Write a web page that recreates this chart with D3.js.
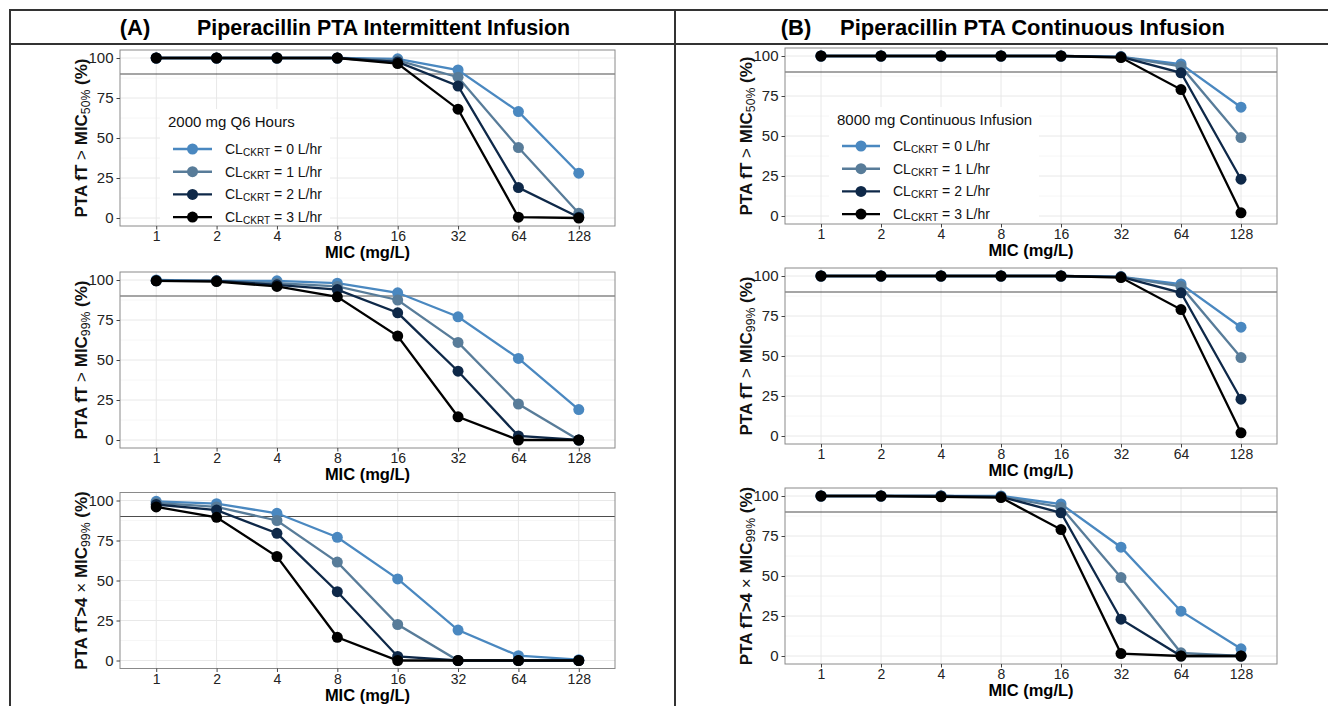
<!DOCTYPE html>
<html>
<head>
<meta charset="utf-8">
<script src="https://cdn.jsdelivr.net/npm/d3@7"></script>
<style>
  body { margin: 0; background: #fff; }
  text { font-family: "Liberation Sans", Arial, sans-serif; }
</style>
</head>
<body>
<svg id="chart" width="1328" height="706"></svg>
<script>
// ---- data ----
const micLabels = ["1", "2", "4", "8", "16", "32", "64", "128"];
const clLabels = ["0", "1", "2", "3"];
const seriesColors = ["#4a88c0", "#587c99", "#0e2848", "#000000"];
const yTicks = [0, 25, 50, 75, 100];
const yMinor = [12.5, 37.5, 62.5, 87.5];
const target = 90;

// intermittent infusion, 2000 mg q6h (one row per CL_CKRT)
const intMic50 = [
  [100, 100, 100, 100, 99.5, 92.5, 66.5, 28],
  [100, 100, 100, 100, 98.5, 88, 44, 3],
  [100, 100, 100, 100, 97.5, 82.5, 19, 0.5],
  [100, 100, 100, 100, 96.5, 68, 0.5, 0]
];
const intMic99 = [
  [100, 99.5, 99.5, 98, 92, 77, 51, 19],
  [99.5, 99.5, 98, 96, 87.5, 61, 22.5, 0],
  [99.5, 99.5, 97, 94, 79.5, 43, 2.5, 0],
  [99.5, 99, 96, 89.5, 65, 14.5, 0, 0]
];
const int4Mic99 = [
  [99.5, 98, 92, 77, 51, 19, 3, 0.5],
  [98.5, 96, 87.5, 61.5, 22.5, 0, 0, 0],
  [97.5, 94, 79.5, 43, 2.5, 0, 0, 0],
  [96, 89.5, 65, 14.5, 0, 0, 0, 0]
];

// continuous infusion, 8000 mg
const conMic50 = [
  [100, 100, 100, 100, 100, 99.5, 95, 68],
  [100, 100, 100, 100, 100, 99.5, 93.5, 49],
  [100, 100, 100, 100, 100, 99.5, 89.5, 23],
  [100, 100, 100, 100, 100, 99, 79, 2]
];
const conMic99 = [
  [100, 100, 100, 100, 100, 99.5, 95, 68],
  [100, 100, 100, 100, 100, 99.5, 93.5, 49],
  [100, 100, 100, 100, 100, 99.5, 89.5, 23],
  [100, 100, 100, 100, 100, 99, 79, 2]
];
const con4Mic99 = [
  [100, 100, 100, 100, 95, 68, 28, 4.5],
  [100, 100, 100, 99.5, 93, 49, 2, 0],
  [100, 100, 100, 99.5, 89.5, 23, 0, 0],
  [100, 100, 99.5, 99, 79, 1.5, 0, 0]
];

// ---- layout ----
const svg = d3.select("#chart");
const cols = [
  { left: 120, right: 615, tops: [58, 280, 500.5], tag: "(A)", tagX: 135,
    title: "Piperacillin PTA Intermittent Infusion", titleX: 197, titleSize: 21.4,
    legendTitle: "2000 mg Q6 Hours", lg: { tx: 48, ty: 69, ky: 91, k0: 53, k1: 92, tx2: 105, w: 170 },
    sets: [intMic50, intMic99, int4Mic99] },
  { left: 785, right: 1277, tops: [56, 276, 496], tag: "(B)", tagX: 796,
    title: "Piperacillin PTA Continuous Infusion", titleX: 840, titleSize: 22,
    legendTitle: "8000 mg Continuous Infusion", lg: { tx: 52, ty: 69, ky: 90, k0: 57, k1: 95, tx2: 108, w: 210 },
    sets: [conMic50, conMic99, con4Mic99] }
];
const yLabels = [
  [["PTA fT ", "b"], [">", "n"], [" MIC", "b"], ["50%", "s"], [" (%)", "b"]],
  [["PTA fT ", "b"], [">", "n"], [" MIC", "b"], ["99%", "s"], [" (%)", "b"]],
  [["PTA fT>4 ", "b"], ["\u00d7", "n"], [" MIC", "b"], ["99%", "s"], [" (%)", "b"]]
];

// frame
const frame = svg.append("g").attr("stroke", "#333").attr("stroke-width", 2);
frame.append("line").attr("x1", 9).attr("x2", 1328).attr("y1", 10).attr("y2", 10);
frame.append("line").attr("x1", 9).attr("x2", 1328).attr("y1", 44).attr("y2", 44);
frame.append("line").attr("x1", 10).attr("x2", 10).attr("y1", 9).attr("y2", 706);
frame.append("line").attr("x1", 675).attr("x2", 675).attr("y1", 9).attr("y2", 706);

function richText(sel, parts, size) {
  parts.forEach(([t, kind]) => {
    const ts = sel.append("tspan").text(t);
    if (kind === "b") ts.attr("font-weight", "bold").attr("font-size", size);
    if (kind === "n") ts.attr("font-weight", "normal").attr("font-size", size);
    if (kind === "s") ts.attr("font-weight", "normal").attr("font-size", size * 0.72)
      .attr("baseline-shift", "-22%");
  });
}

cols.forEach(col => {
  svg.append("text").attr("x", col.tagX).attr("y", 35).attr("text-anchor", "middle")
    .attr("font-weight", "bold").attr("font-size", 22).text(col.tag);
  svg.append("text").attr("x", col.titleX).attr("y", 35)
    .attr("font-weight", "bold").attr("font-size", col.titleSize).text(col.title);

  col.sets.forEach((set, row) => {
    const top100 = col.tops[row];
    const x = d3.scalePoint().domain(micLabels).range([col.left, col.right]).padding(0.6);
    const y = d3.scaleLinear().domain([-5, 105]).range([top100 + 168, top100 - 8]);
    const g = svg.append("g");
    const [y0, y1] = y.range();

    g.append("rect").attr("x", col.left).attr("y", y1)
      .attr("width", col.right - col.left).attr("height", y0 - y1).attr("fill", "#fff");

    g.selectAll(".ymin").data(yMinor).join("line")
      .attr("x1", col.left).attr("x2", col.right)
      .attr("y1", d => y(d)).attr("y2", d => y(d))
      .attr("stroke", "#f4f4f4").attr("stroke-width", 0.8);
    g.selectAll(".ymaj").data(yTicks).join("line")
      .attr("x1", col.left).attr("x2", col.right)
      .attr("y1", d => y(d)).attr("y2", d => y(d))
      .attr("stroke", "#e8e8e8").attr("stroke-width", 1);
    g.selectAll(".xmaj").data(micLabels).join("line")
      .attr("x1", d => x(d)).attr("x2", d => x(d))
      .attr("y1", y1).attr("y2", y0)
      .attr("stroke", "#e8e8e8").attr("stroke-width", 1);

    g.append("line").attr("x1", col.left).attr("x2", col.right)
      .attr("y1", y(target)).attr("y2", y(target))
      .attr("stroke", "#4d4d4d").attr("stroke-width", 1.1);

    // legend (top row only)
    if (row === 0) {
      const lg = col.lg;
      const lgG = g.append("g");
      lgG.append("rect").attr("x", col.left + lg.tx - 8).attr("y", top100 + lg.ty - 18)
        .attr("width", lg.w).attr("height", 120).attr("fill", "#fff");
      lgG.append("text").attr("x", col.left + lg.tx).attr("y", top100 + lg.ty)
        .attr("font-size", 15).attr("fill", "#111").text(col.legendTitle);
      clLabels.forEach((cl, i) => {
        const ky = top100 + lg.ky + i * 22.7;
        lgG.append("line").attr("x1", col.left + lg.k0).attr("x2", col.left + lg.k1)
          .attr("y1", ky).attr("y2", ky).attr("stroke", seriesColors[i]).attr("stroke-width", 2.4);
        lgG.append("circle").attr("cx", col.left + (lg.k0 + lg.k1) / 2).attr("cy", ky)
          .attr("r", 5.5).attr("fill", seriesColors[i]);
        const t = lgG.append("text").attr("x", col.left + lg.tx2).attr("y", ky + 5)
          .attr("fill", "#111");
        richText(t, [["CL", "n"], ["CKRT", "s"], [" = " + cl + " L/hr", "n"]], 14);
      });
    }

    const line = d3.line().x((d, i) => x(micLabels[i])).y(d => y(d));
    set.forEach((vals, s) => {
      g.append("path").datum(vals).attr("d", line).attr("fill", "none")
        .attr("stroke", seriesColors[s]).attr("stroke-width", 2.3);
      g.selectAll(null).data(vals).join("circle")
        .attr("cx", (d, i) => x(micLabels[i])).attr("cy", d => y(d))
        .attr("r", 5.5).attr("fill", seriesColors[s]);
    });

    g.append("rect").attr("x", col.left).attr("y", y1)
      .attr("width", col.right - col.left).attr("height", y0 - y1)
      .attr("fill", "none").attr("stroke", "#8a8a8a").attr("stroke-width", 1);

    const ax = g.append("g").attr("transform", `translate(${col.left},0)`)
      .call(d3.axisLeft(y).tickValues(yTicks).tickSize(3.5).tickPadding(3));
    ax.select(".domain").remove();
    ax.selectAll(".tick line").attr("stroke", "#444");
    ax.selectAll(".tick text").attr("font-size", 15).attr("fill", "#222")
      .attr("font-family", "Liberation Sans, Arial, sans-serif");

    const bx = g.append("g").attr("transform", `translate(0,${y0})`)
      .call(d3.axisBottom(x).tickSize(3.5).tickPadding(2));
    bx.select(".domain").remove();
    bx.selectAll(".tick line").attr("stroke", "#444");
    bx.selectAll(".tick text").attr("font-size", 14).attr("fill", "#222")
      .attr("font-family", "Liberation Sans, Arial, sans-serif");

    g.append("text").attr("x", (col.left + col.right) / 2).attr("y", y0 + 32)
      .attr("text-anchor", "middle").attr("font-weight", "bold").attr("font-size", 16.5)
      .text("MIC (mg/L)");

    const yl = g.append("text")
      .attr("transform", `translate(${col.left - 33},${(top100 + top100 + 160) / 2}) rotate(-90)`)
      .attr("text-anchor", "middle").attr("fill", "#111");
    richText(yl, yLabels[row], 17);
  });
});
</script>
</body>
</html>
